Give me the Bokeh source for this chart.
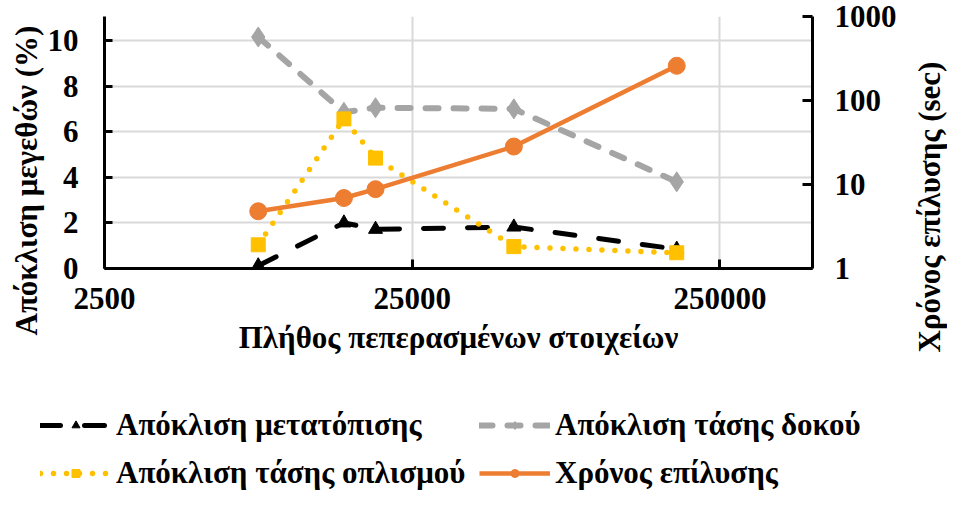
from bokeh.plotting import figure
from bokeh.layouts import column, row
from bokeh.models import (Range1d, LogScale, LogAxis, FixedTicker, Legend,
                          LegendItem, Title)
from bokeh.embed import file_html
from bokeh.resources import INLINE

# ---- data ----
elements = [7900, 15000, 19000, 53500, 181000]
dev_displacement = [0.12, 2.0, 1.72, 1.82, 0.85]
dev_beam_stress = [10.15, 6.85, 7.05, 7.0, 3.8]
dev_rebar_stress = [1.04, 6.56, 4.84, 0.96, 0.69]
solve_time = [4.8, 6.9, 8.8, 28.3, 259]

x_ticks = [2500, 25000, 250000]
y_ticks = [0, 2, 4, 6, 8, 10]
y2_ticks = [1, 10, 100, 1000]

labels = ["Απόκλιση μετατόπισης", "Απόκλιση τάσης δοκού",
          "Απόκλιση τάσης οπλισμού", "Χρόνος επίλυσης"]
x_title = "Πλήθος πεπερασμένων στοιχείων"
y_title = "Απόκλιση μεγεθών (%)"
y2_title = "Χρόνος επίλυσης (sec)"

FONT = "Liberation Serif"
TITLE_FS = "31px"

styles = [
    dict(line=dict(line_color="black", line_width=5, line_dash="20 24", line_cap="round"),
         mark=dict(marker="triangle", size=14, fill_color="black", line_color="black")),
    dict(line=dict(line_color="#A5A5A5", line_width=6, line_dash="13 15", line_cap="round"),
         mark=dict(marker="diamond", size=20, fill_color="#A5A5A5", line_color="#A5A5A5")),
    dict(line=dict(line_color="#FFC000", line_width=5.5, line_dash="0 13", line_cap="round"),
         mark=dict(marker="square", size=14, fill_color="#FFC000", line_color="#FFC000")),
    dict(line=dict(line_color="#ED7D31", line_width=4.5),
         mark=dict(marker="circle", size=17, fill_color="#ED7D31", line_color="#ED7D31")),
]

def bare(fig):
    fig.outline_line_color = None
    fig.xgrid.visible = False
    fig.ygrid.visible = False
    fig.frame_align = False

# ---------------- main chart ----------------
p = figure(width=900, height=365, x_axis_type="log",
           x_range=Range1d(2500, 500000), y_range=Range1d(0, 11.05),
           output_backend="svg", toolbar_location=None,
           min_border_left=104, min_border_right=88,
           min_border_top=16, min_border_bottom=97)
p.outline_line_color = None
p.frame_align = False
p.extra_y_ranges = {"t": Range1d(1, 1000)}
p.extra_y_scales = {"t": LogScale()}

p.xgrid.ticker = FixedTicker(ticks=x_ticks)
p.ygrid.ticker = FixedTicker(ticks=y_ticks)
for g in (p.xgrid, p.ygrid):
    g.grid_line_color = "#D9D9D9"
    g.grid_line_width = 2

def style_axis(ax, ticks, fs="31px"):
    ax.ticker = FixedTicker(ticks=ticks)
    ax.major_label_overrides = {t: str(t) for t in ticks}
    ax.axis_line_width = 3
    ax.axis_line_color = "black"
    ax.major_tick_line_width = 3
    ax.major_tick_line_color = "black"
    ax.major_tick_out = 0
    ax.minor_tick_line_color = None
    ax.major_label_text_font = FONT
    ax.major_label_text_font_style = "bold"
    ax.major_label_text_font_size = fs
    ax.major_label_text_color = "black"
    ax.axis_label_text_font = FONT
    ax.axis_label_text_font_style = "bold"
    ax.axis_label_text_font_size = TITLE_FS
    ax.axis_label_text_color = "black"

xa = p.xaxis[0]
style_axis(xa, x_ticks)
xa.major_tick_in = 9
xa.major_label_standoff = 19
xa.axis_label = x_title
xa.axis_label_standoff = 8

ya = p.yaxis[0]
style_axis(ya, y_ticks)
ya.major_tick_in = 8
ya.major_label_standoff = 26

ya2 = LogAxis(y_range_name="t")
style_axis(ya2, y2_ticks)
ya2.major_tick_in = 10
ya2.major_label_standoff = 22
p.add_layout(ya2, "right")

# left title, starting below the frame bottom and reading upwards
p.add_layout(Title(text=y_title, align="left", offset=-67, standoff=2,
                   text_font=FONT, text_font_style="bold",
                   text_font_size=TITLE_FS, text_color="black"), "left")

series = [dev_displacement, dev_beam_stress, dev_rebar_stress, solve_time]
for i, vals in enumerate(series):
    kw = dict(y_range_name="t") if i == 3 else {}
    p.line(elements, vals, **styles[i]["line"], **kw)
    p.scatter(elements, vals, **styles[i]["mark"], **kw)

# ---------------- right axis title strip ----------------
r = figure(width=47, height=365, output_backend="svg", toolbar_location=None,
           x_range=Range1d(0, 1), y_range=Range1d(0, 1),
           x_axis_location=None, y_axis_location=None,
           min_border_left=46, min_border_right=0,
           min_border_top=0, min_border_bottom=0)
bare(r)
r.add_layout(Title(text=y2_title, align="left", offset=13, standoff=0,
                   text_font=FONT, text_font_style="bold",
                   text_font_size=TITLE_FS, text_color="black"), "left")

# ---------------- legend strip ----------------
q = figure(width=947, height=126, output_backend="svg", toolbar_location=None,
           x_range=Range1d(0, 1), y_range=Range1d(0, 1),
           x_axis_location=None, y_axis_location=None, min_border=0)
bare(q)
items = []
for i, lab in enumerate(labels):
    # same series, outside the strip's visible range: only the legend keys show
    lr = q.line(elements, series[i], **styles[i]["line"])
    mr = q.scatter(elements, series[i], **styles[i]["mark"])
    items.append(LegendItem(label=lab, renderers=[lr, mr]))

legend = Legend(items=items, orientation="horizontal", ncols=2,
                location=(40, 0))
legend.label_text_font = FONT
legend.label_text_font_style = "bold"
legend.label_text_font_size = TITLE_FS
legend.label_text_color = "black"
legend.glyph_width = 71
legend.glyph_height = 20
legend.label_standoff = 5
legend.label_width = 351
legend.spacing = 12
legend.padding = 0
legend.margin = 0
legend.border_line_color = None
legend.background_fill_alpha = 0
q.add_layout(legend, "center")

layout = column(row(p, r, spacing=0), q, spacing=0)
open("out.html", "w").write(file_html(layout, INLINE))
